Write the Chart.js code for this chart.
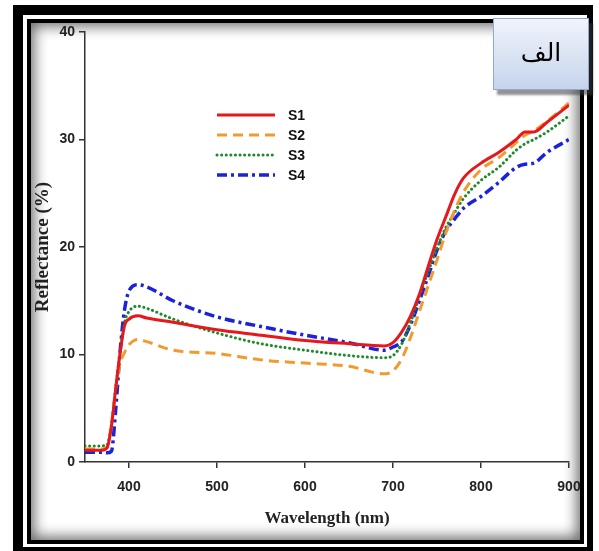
<!DOCTYPE html>
<html>
<head>
<meta charset="utf-8">
<script src="https://cdn.jsdelivr.net/npm/chart.js@4.4.1/dist/chart.umd.min.js"></script>
<style>
html, body { margin:0; padding:0; width:599px; height:551px; overflow:hidden; background:#fff; }
#outer { position:absolute; left:13px; top:5px; width:580px; height:546px; background:#000; }
#gap { position:absolute; left:10px; top:10px; right:6px; bottom:4px; background:#fff; }
#inner { position:absolute; left:4px; top:4px; right:3px; bottom:3px; border:4px solid #000;
         background:#fff; box-shadow: inset 0 0 14px 3px rgba(0,0,0,0.6); }
#chartBox { position:absolute; left:0; top:0; width:599px; height:551px; }
#badge { position:absolute; left:493px; top:18px; width:96px; height:72px; box-sizing:border-box;
         border:1.5px solid #8ea9d6; background:linear-gradient(#f0f4fb, #c6d4ec);
         box-shadow: 4px 5px 2px rgba(60,60,60,0.55);
         font-family:"DejaVu Sans", sans-serif; font-size:25px; color:#000;
         text-align:center; line-height:68px; }
</style>
</head>
<body>
<div id="outer"><div id="gap"><div id="inner"></div></div></div>
<div id="chartBox"><canvas id="spectra" width="599" height="551"></canvas></div>
<div id="badge" dir="rtl">الف</div>
<script>
// wavelength samples (nm) and reflectance (%)
var wavelengths = [350, 370, 375, 380, 385, 390, 395, 400, 410, 420, 450, 500, 550, 600, 650, 690, 700, 710, 720, 730, 740, 750, 760, 770, 780, 800, 820, 840, 850, 860, 875, 900];
var s1 = [1.1, 1.1, 1.3, 3.3, 6.9, 10.2, 12.7, 13.3, 13.6, 13.4, 13.0, 12.3, 11.8, 11.3, 11.0, 10.8, 11.1, 12.1, 13.6, 15.6, 18.2, 20.7, 22.8, 24.9, 26.4, 27.8, 28.8, 30.0, 30.7, 30.7, 31.6, 33.2];
var s2 = [1.2, 1.2, 1.4, 3.5, 6.9, 9.2, 10.2, 10.9, 11.4, 11.2, 10.4, 10.1, 9.5, 9.2, 8.9, 8.2, 8.5, 9.6, 11.6, 14.0, 16.4, 18.8, 21.3, 23.4, 25.1, 27.2, 28.3, 29.7, 30.4, 30.8, 31.7, 33.4];
var s3 = [1.5, 1.5, 1.6, 3.5, 7.0, 10.3, 13.0, 14.0, 14.5, 14.3, 13.3, 12.0, 11.0, 10.4, 9.9, 9.7, 9.9, 11.0, 13.0, 15.4, 17.7, 19.9, 21.8, 23.2, 24.5, 26.2, 27.4, 29.0, 29.6, 30.0, 30.7, 32.2];
var s4 = [0.9, 0.9, 0.85, 1.0, 5.0, 10.4, 14.2, 15.9, 16.5, 16.3, 15.0, 13.5, 12.6, 11.8, 11.1, 10.4, 10.7, 11.2, 12.8, 15.0, 17.3, 19.7, 21.5, 22.6, 23.6, 24.7, 26.0, 27.4, 27.7, 27.8, 28.8, 30.0];
var seriesNames = ['S1', 'S2', 'S3', 'S4'];
var xTickValues = [400, 500, 600, 700, 800, 900];
var yTickValues = [0, 10, 20, 30, 40];

function pts(vals) {
    return wavelengths.map(function (w, i) { return { x: w, y: vals[i] }; });
}

// legend drawn inside the plot, like the original figure
var innerLegend = {
    id: 'innerLegend',
    afterDatasetsDraw: function (chart) {
        var c = chart.ctx;
        chart.data.datasets.forEach(function (ds, i) {
            var y = 115 + i * 20;
            c.save();
            c.strokeStyle = ds.borderColor;
            c.lineWidth = ds.borderWidth;
            c.lineCap = ds.borderCapStyle || 'butt';
            c.setLineDash(ds.borderDash || []);
            c.beginPath();
            c.moveTo(217, y);
            c.lineTo(275, y);
            c.stroke();
            c.setLineDash([]);
            c.fillStyle = '#111';
            c.font = 'bold 14px "Liberation Sans", Arial, sans-serif';
            c.textBaseline = 'middle';
            c.fillText(ds.label, 288, y + 1);
            c.restore();
        });
    }
};

var ctx = document.getElementById('spectra').getContext('2d');
var chart = new Chart(ctx, {
    type: 'line',
    data: {
        datasets: [{
            label: seriesNames[0],
            data: pts(s1),
            borderColor: '#e5191b',
            borderWidth: 3
        }, {
            label: seriesNames[1],
            data: pts(s2),
            borderColor: '#f29a2e',
            borderWidth: 3,
            borderDash: [10, 6]
        }, {
            label: seriesNames[2],
            data: pts(s3),
            borderColor: '#1f8a2b',
            borderWidth: 3,
            borderDash: [0.1, 4.5],
            borderCapStyle: 'round'
        }, {
            label: seriesNames[3],
            data: pts(s4),
            borderColor: '#1b23d9',
            borderWidth: 3.5,
            borderDash: [10, 4, 3, 4]
        }]
    },
    options: {
        responsive: false,
        animation: false,
        devicePixelRatio: 1,
        elements: {
            point: { radius: 0 },
            line: { cubicInterpolationMode: 'monotone', fill: false }
        },
        layout: { padding: { left: 31, right: 30, top: 32, bottom: 19 } },
        plugins: { legend: { display: false }, tooltip: { enabled: false } },
        scales: {
            x: {
                type: 'linear',
                min: 350,
                max: 900,
                afterFit: function (s) { s.height = 70; },
                afterBuildTicks: function (s) { s.ticks = xTickValues.map(function (v) { return { value: v }; }); },
                grid: { drawOnChartArea: false, drawTicks: true, tickLength: 6, color: '#333', lineWidth: 1.5 },
                border: { display: true, color: '#333', width: 1.5 },
                ticks: { color: '#222', padding: 11, maxRotation: 0, font: { family: '"Liberation Sans", Arial, sans-serif', size: 14, weight: 'bold' } },
                title: {
                    display: true,
                    text: 'Wavelength (nm)',
                    color: '#222',
                    padding: { top: 0, bottom: 3 },
                    font: { family: '"Liberation Serif", "Times New Roman", serif', size: 17, weight: 'bold' }
                }
            },
            y: {
                min: 0,
                max: 40,
                afterFit: function (s) { s.width = 54; },
                afterBuildTicks: function (s) { s.ticks = yTickValues.map(function (v) { return { value: v }; }); },
                grid: { drawOnChartArea: false, drawTicks: true, tickLength: 6, color: '#333', lineWidth: 1.5 },
                border: { display: true, color: '#333', width: 1.5 },
                ticks: { color: '#222', padding: 4, font: { family: '"Liberation Sans", Arial, sans-serif', size: 14, weight: 'bold' } },
                title: {
                    display: true,
                    text: 'Reflectance (%)',
                    color: '#222',
                    padding: { top: 1, bottom: 0 },
                    font: { family: '"Liberation Serif", "Times New Roman", serif', size: 19, weight: 'bold' }
                }
            }
        }
    },
    plugins: [innerLegend]
});
</script>
</body>
</html>
